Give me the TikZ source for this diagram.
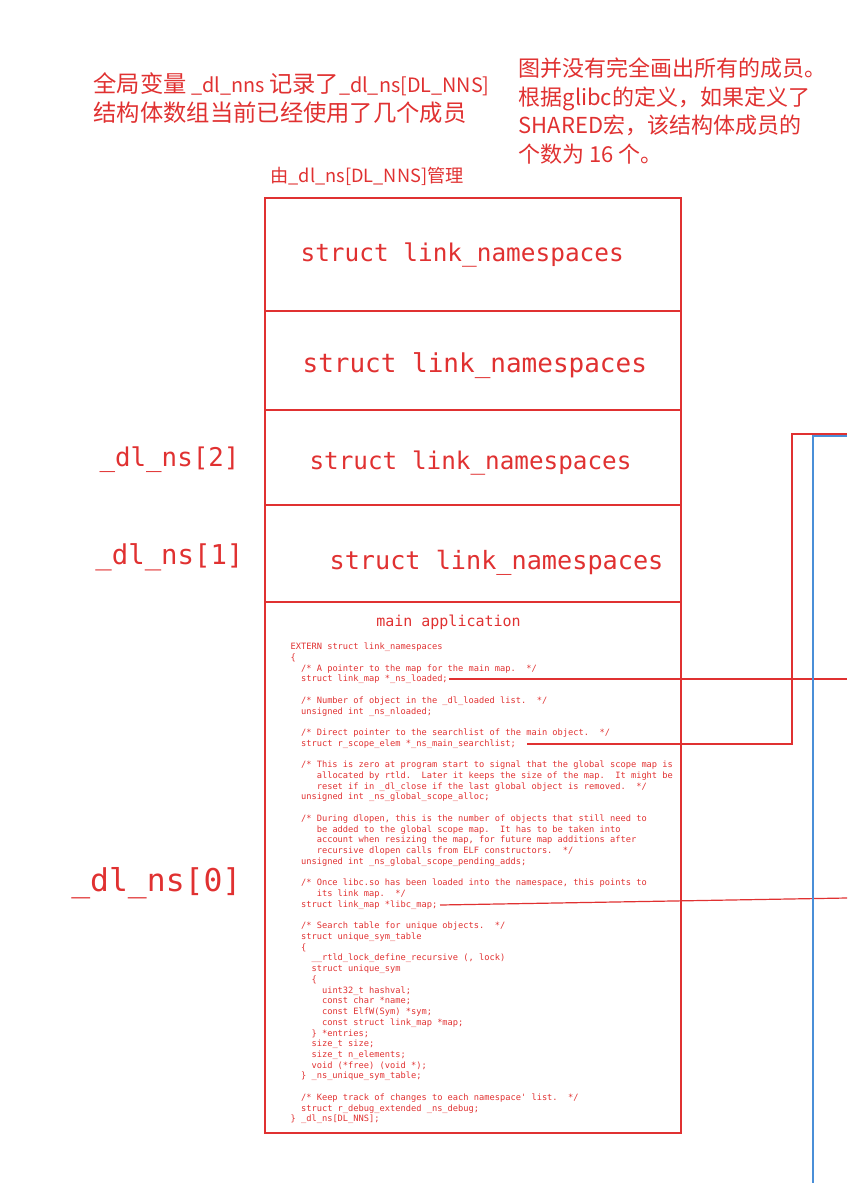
\documentclass[tikz,border=0pt]{standalone}
\usepackage{fontspec}
\setmonofont{DejaVu Sans Mono}
\newfontfamily\cjk{Noto Sans CJK SC}
\newcommand\lat[1]{{\fontsize{19.8}{29}\selectfont #1}}
\definecolor{nsred}{HTML}{E03131}
\definecolor{nsblue}{HTML}{4A8FD8}
\tikzset{codefont/.style={font=\ttfamily\frenchspacing\fontsize{8.7}{10.73}\selectfont}}

\begin{document}
\begin{tikzpicture}[x=1pt,y=-1pt,inner sep=0pt,line width=1.2pt,nsred]
\useasboundingbox (0,0) rectangle (847,1183);

\node[anchor=west,align=left,font=\cjk\fontsize{23.3}{29}\selectfont] (note) at (93,98.5)
  {全局变量\lat{ \_dl\_nns }记录了\lat{\_dl\_ns[DL\_NNS]}\\结构体数组当前已经使用了几个成员};
\node[anchor=west,align=left,font=\cjk\fontsize{22}{28.4}\selectfont] (remark) at (518,111)
  {图并没有完全画出所有的成员。\\根据glibc的定义，如果定义了\\SHARED宏，该结构体成员的\\个数为 16 个。};
\node[anchor=west,font=\cjk\fontsize{18.2}{19}\selectfont] (owner) at (270,176) {由\_dl\_ns[DL\_NNS]管理};

\draw (265,198) rectangle (681,1133);
\foreach \y in {311,410,505,602}
  \draw (265,\y) -- (681,\y);

\foreach \name/\x/\y/\s in {S4/300/255/24.4,S3/302/366/26,S2/309/463/24.3,S1/329/563/25.2}
  \node[anchor=west,font=\ttfamily\fontsize{\s}{\s}\selectfont] (\name) at (\x,\y) {struct link\_namespaces};

\foreach \name/\i/\x/\y/\s in {L2/2/240/460/25.8,L1/1/244/557/27.3,L0/0/242/883/31.4}
  \node[anchor=east,font=\ttfamily\fontsize{\s}{\s}\selectfont] (\name) at (\x,\y) {\_dl\_ns[\i]};

\node[font=\ttfamily\fontsize{15}{15}\selectfont] (app) at (448.5,622) {main application};

\node[anchor=north west,align=left,codefont] (code) at (290,642.5) {%
EXTERN struct link\_namespaces\\
\{\\
\null~~/* A pointer to the map for the main map.~~*/\\
\null~~struct link\_map *\_ns\_loaded;\\
\null\\
\null~~/* Number of object in the \_dl\_loaded list.~~*/\\
\null~~unsigned int \_ns\_nloaded;\\
\null\\
\null~~/* Direct pointer to the searchlist of the main object.~~*/\\
\null~~struct r\_scope\_elem *\_ns\_main\_searchlist;\\
\null\\
\null~~/* This is zero at program start to signal that the global scope map is\\
\null~~~~~allocated by rtld.~~Later it keeps the size of the map.~~It might be\\
\null~~~~~reset if in \_dl\_close if the last global object is removed.~~*/\\
\null~~unsigned int \_ns\_global\_scope\_alloc;\\
\null\\
\null~~/* During dlopen, this is the number of objects that still need to\\
\null~~~~~be added to the global scope map.~~It has to be taken into\\
\null~~~~~account when resizing the map, for future map additions after\\
\null~~~~~recursive dlopen calls from ELF constructors.~~*/\\
\null~~unsigned int \_ns\_global\_scope\_pending\_adds;\\
\null\\
\null~~/* Once libc.so has been loaded into the namespace, this points to\\
\null~~~~~its link map.~~*/\\
\null~~struct link\_map *libc\_map;\\
\null\\
\null~~/* Search table for unique objects.~~*/\\
\null~~struct unique\_sym\_table\\
\null~~\{\\
\null~~~~\_\_rtld\_lock\_define\_recursive (, lock)\\
\null~~~~struct unique\_sym\\
\null~~~~\{\\
\null~~~~~~uint32\_t hashval;\\
\null~~~~~~const char *name;\\
\null~~~~~~const ElfW(Sym) *sym;\\
\null~~~~~~const struct link\_map *map;\\
\null~~~~\} *entries;\\
\null~~~~size\_t size;\\
\null~~~~size\_t n\_elements;\\
\null~~~~void (*free) (void *);\\
\null~~\} \_ns\_unique\_sym\_table;\\
\null\\
\null~~/* Keep track of changes to each namespace\textquotesingle{} list.~~*/\\
\null~~struct r\_debug\_extended \_ns\_debug;\\
\} \_dl\_ns[DL\_NNS];};

\coordinate (P1) at (449,679);
\coordinate (P1e) at (847,679);
\coordinate (P2) at (527,744);
\coordinate (P2e) at (847,434);
\coordinate (P3) at (440,905);
\coordinate (P3e) at (847,898);
\coordinate (B0) at (813,1183);
\coordinate (B1) at (847,436);

\draw (P1) -- (P1e);
\draw (P2) -| (792,434) -- (P2e);
\draw (P3) -- (P3e);
\draw[nsblue] (B0) |- (B1);
\end{tikzpicture}
\end{document}
